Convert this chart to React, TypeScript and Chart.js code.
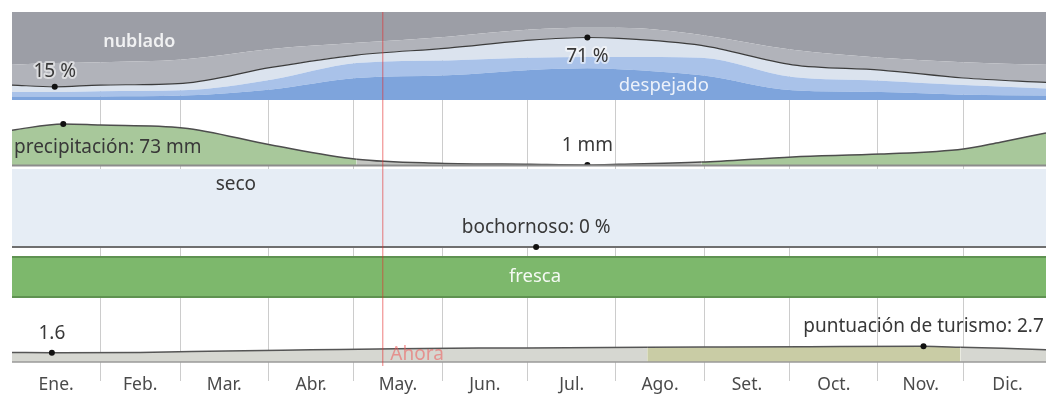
import React, { useEffect, useRef } from 'react';
import { Chart, registerables } from 'chart.js';

Chart.register(...registerables);

// ---------- data ----------
const monthLabels = ['Ene.', 'Feb.', 'Mar.', 'Abr.', 'May.', 'Jun.', 'Jul.', 'Ago.', 'Set.', 'Oct.', 'Nov.', 'Dic.'];
const monthStartDays = [0, 31, 59, 90, 120, 151, 181, 212, 243, 273, 304, 334];
const monthLengths = [31, 28, 31, 30, 31, 30, 31, 31, 30, 31, 30, 31];
const nowDay = 130;

// cloud cover categories (% of time), by day of year
const cloudDays = [0, 15, 31, 60, 91, 121, 153, 182, 202, 213, 242, 274, 305, 334, 363];
const clearPct = [4, 4, 4, 5, 12, 25, 28, 34, 36, 35, 28, 11, 9, 6, 5];
const mostlyClearPct = [5, 5, 6, 6, 11, 17, 17, 14, 13, 14, 20, 15, 13, 11, 8];
const partlyCloudyPct = [8, 6, 7, 8, 14, 9, 14, 20, 22, 21, 14, 14, 12, 8, 7];
const mostlyCloudyPct = [23, 27, 26, 27, 21, 14, 13, 12, 11, 12, 12, 17, 14, 18, 20];
const overcastPct = [60, 58, 57, 54, 42, 35, 28, 20, 18, 18, 26, 43, 52, 57, 60];

// precipitation (mm, 31-day sliding)
const precipDays = [0, 18, 31, 60, 91, 121, 150, 182, 202, 213, 242, 274, 305, 334, 347, 363];
const precipMm = [62, 73, 71, 66, 36, 11, 4, 2, 1, 2, 6, 15, 20, 29, 41, 57];

// humidity comfort (% of time muggy / dry)
const humidDays = [0, 31, 59, 90, 120, 151, 184, 212, 243, 273, 304, 334, 363];
const muggyPct = [0, 0, 0, 0, 0, 0, 0, 0, 0, 0, 0, 0, 0];
const dryPct = [100, 100, 100, 100, 100, 100, 100, 100, 100, 100, 100, 100, 100];
const muggyPeakDay = 184;

// wind/temperature feel: fresca (% of time)
const windDays = [0, 90, 181, 273, 363];
const coolPct = [100, 100, 100, 100, 100];

// tourism score
const tourismDays = [0, 14, 45, 75, 105, 135, 165, 195, 223, 250, 280, 320, 333, 348, 363];
const tourismScore = [1.65, 1.6, 1.65, 1.9, 2.1, 2.3, 2.4, 2.45, 2.55, 2.6, 2.65, 2.7, 2.55, 2.35, 2.1];
const tourismGoodThreshold = 2.5;

// ---------- helpers ----------
const pts = (days: number[], vals: number[]) => days.map((d, i) => ({ x: d, y: vals[i] }));
const argMin = (a: number[]) => a.reduce((m, v, i) => (v < a[m] ? i : m), 0);
const argMax = (a: number[]) => a.reduce((m, v, i) => (v > a[m] ? i : m), 0);

const cloudLine = cloudDays.map((_, i) => clearPct[i] + mostlyClearPct[i] + partlyCloudyPct[i]);
const cloudMinI = argMin(cloudLine);
const cloudMaxI = argMax(cloudLine);
const precipMaxI = argMax(precipMm);
const precipMinI = argMin(precipMm);
const muggyI = humidDays.indexOf(muggyPeakDay);
const tourMinI = argMin(tourismScore);
const tourMaxI = argMax(tourismScore);

const monthMidDays = monthStartDays.map((d, i) => d + monthLengths[i] / 2);
const FONT = '"Noto Sans", "Open Sans", sans-serif';

const markerRadius = (idxs: number[]) => (ctx: any) => (idxs.includes(ctx.dataIndex) ? 3 : 0);

const overlayPlugin = {
  id: 'overlay',
  afterDatasetsDraw(chart: any) {
    const { ctx, chartArea, scales } = chart;
    const base = (id: string, v: number, color: string, w: number) => {
      const y = scales[id].getPixelForValue(v);
      ctx.save();
      ctx.strokeStyle = color;
      ctx.lineWidth = w;
      ctx.beginPath();
      ctx.moveTo(chartArea.left, y);
      ctx.lineTo(chartArea.right, y);
      ctx.stroke();
      ctx.restore();
    };
    base('yPrecip', 0, '#8c8c8c', 2);
    base('yWind', 0, '#5f9251', 2);
    base('yTour', 0, '#9a9a98', 1.5);
  },
  afterDraw(chart: any) {
    const { ctx, chartArea, scales } = chart;
    const x = scales.x;
    const L = chartArea.left;
    const R = chartArea.right;

    // now line
    const nx = x.getPixelForValue(nowDay);
    ctx.save();
    ctx.strokeStyle = 'rgba(228,45,45,0.62)';
    ctx.lineWidth = 1;
    ctx.beginPath();
    ctx.moveTo(nx + 0.5, chartArea.top);
    ctx.lineTo(nx + 0.5, chartArea.bottom + 3);
    ctx.stroke();
    ctx.restore();

    const text = (s: string, px: number, py: number, opt: any = {}) => {
      ctx.save();
      ctx.font = `${opt.weight || 'normal'} ${opt.size || 19}px ${FONT}`;
      ctx.textBaseline = 'middle';
      const w = ctx.measureText(s).width;
      let left = opt.align === 'left' ? px : px - w / 2;
      left = Math.max(L + 2, Math.min(R - 2 - w, left));
      if (opt.halo) {
        ctx.strokeStyle = opt.halo;
        ctx.lineWidth = 4;
        ctx.lineJoin = 'round';
        ctx.strokeText(s, left, py);
      }
      ctx.fillStyle = opt.color || '#383838';
      ctx.fillText(s, left, py);
      ctx.restore();
    };

    const yc = scales.yCloud;
    const yp = scales.yPrecip;
    const yh = scales.yHumid;
    const yw = scales.yWind;
    const yt = scales.yTour;

    text('nublado', x.getPixelForValue(32), yc.getPixelForValue(66), { align: 'left', color: 'rgba(255,255,255,0.85)', weight: '600', size: 18 });
    text('despejado', x.getPixelForValue(213), yc.getPixelForValue(16), { align: 'left', color: 'rgba(255,255,255,0.85)', size: 18.5 });
    text(`${Math.round(cloudLine[cloudMinI])} %`, x.getPixelForValue(cloudDays[cloudMinI]), yc.getPixelForValue(cloudLine[cloudMinI]) - 15, { halo: 'rgba(255,255,255,0.55)' });
    text(`${Math.round(cloudLine[cloudMaxI])} %`, x.getPixelForValue(cloudDays[cloudMaxI]), yc.getPixelForValue(cloudLine[cloudMaxI]) + 19, { halo: 'rgba(255,255,255,0.55)' });

    text(`precipitación: ${precipMm[precipMaxI]} mm`, x.getPixelForValue(precipDays[precipMaxI]), yp.getPixelForValue(precipMm[precipMaxI]) + 24);
    text(`${precipMm[precipMinI]} mm`, x.getPixelForValue(precipDays[precipMinI]), yp.getPixelForValue(precipMm[precipMinI]) - 19);

    text('seco', x.getPixelForValue(78.6), yh.getPixelForValue(80));
    text(`bochornoso: ${muggyPct[muggyI]} %`, x.getPixelForValue(humidDays[muggyI]), yh.getPixelForValue(muggyPct[muggyI]) - 19);

    text('fresca', (L + R) / 2 + 6, yw.getPixelForValue(50), { color: 'rgba(255,255,255,0.92)', size: 18.5 });

    text(tourismScore[tourMinI].toFixed(1), x.getPixelForValue(tourismDays[tourMinI]), yt.getPixelForValue(tourismScore[tourMinI]) - 19);
    text(`puntuación de turismo: ${tourismScore[tourMaxI].toFixed(1)}`, x.getPixelForValue(tourismDays[tourMaxI]), yt.getPixelForValue(tourismScore[tourMaxI]) - 20);

    text('Ahora', nx + 8, yt.getPixelForValue(1.2), { align: 'left', color: 'rgba(240,90,90,0.55)' });
  },
};

export default function App() {
  const ref = useRef<HTMLCanvasElement | null>(null);

  useEffect(() => {
    let chart: Chart | null = null;
    let cancelled = false;
    const build = () => {
      if (cancelled || !ref.current) return;
      const cloudCommon = { yAxisID: 'yCloud', borderWidth: 0, pointRadius: 0, cubicInterpolationMode: 'monotone' as const };
      chart = new Chart(ref.current, {
        type: 'line',
        data: {
          datasets: [
            { ...cloudCommon, label: 'despejado', data: pts(cloudDays, clearPct), fill: 'origin', backgroundColor: '#7ea4dc' },
            { ...cloudCommon, label: 'mayormente despejado', data: pts(cloudDays, mostlyClearPct), fill: '-1', backgroundColor: '#a9c2e9' },
            {
              ...cloudCommon, label: 'parcialmente nublado', data: pts(cloudDays, partlyCloudyPct), fill: '-1', backgroundColor: '#dbe3ee',
              borderWidth: 1.2, borderColor: '#3c3c3c', pointRadius: markerRadius([cloudMinI, cloudMaxI]), pointBackgroundColor: '#111', pointBorderWidth: 0,
            },
            { ...cloudCommon, label: 'mayormente nublado', data: pts(cloudDays, mostlyCloudyPct), fill: '-1', backgroundColor: '#b1b3ba' },
            { ...cloudCommon, label: 'nublado', data: pts(cloudDays, overcastPct), fill: '-1', backgroundColor: '#9c9ea6' },
            {
              label: 'precipitación', yAxisID: 'yPrecip', data: pts(precipDays, precipMm), fill: 'origin', backgroundColor: '#a8c89b',
              segment: { backgroundColor: (c: any) => (c.p0.parsed.y < 15 && c.p1.parsed.y < 15 ? '#c4c6c2' : undefined) },
              borderColor: '#4d4d4d', borderWidth: 1.5, cubicInterpolationMode: 'monotone',
              pointRadius: markerRadius([precipMaxI, precipMinI]), pointBackgroundColor: '#111', pointBorderWidth: 0,
            },
            {
              label: 'bochornoso', yAxisID: 'yHumid', data: pts(humidDays, muggyPct), fill: 'origin', backgroundColor: '#c9d3dd',
              borderColor: '#6f6f6f', borderWidth: 2, pointRadius: markerRadius([muggyI]), pointBackgroundColor: '#111', pointBorderWidth: 0,
            },
            { label: 'seco', yAxisID: 'yHumid', data: pts(humidDays, dryPct), fill: '-1', backgroundColor: '#e6edf5', borderWidth: 0, pointRadius: 0 },
            { label: 'fresca', yAxisID: 'yWind', data: pts(windDays, coolPct), fill: 'origin', backgroundColor: '#7db86c', borderColor: '#5f9251', borderWidth: 2, pointRadius: 0 },
            {
              label: 'turismo', yAxisID: 'yTour', data: pts(tourismDays, tourismScore), fill: 'origin', backgroundColor: '#d6d7d1',
              segment: { backgroundColor: (c: any) => (c.p0.parsed.y >= tourismGoodThreshold && c.p1.parsed.y >= tourismGoodThreshold ? '#c9cca5' : undefined) },
              borderColor: '#555', borderWidth: 1.5, cubicInterpolationMode: 'monotone',
              pointRadius: markerRadius([tourMinI, tourMaxI]), pointBackgroundColor: '#111', pointBorderWidth: 0,
            },
          ],
        },
        options: {
          animation: false,
          responsive: false,
          layout: { padding: { left: 12, right: 0, top: 12, bottom: 0 } },
          plugins: { legend: { display: false }, tooltip: { enabled: false } },
          scales: {
            x: {
              type: 'linear', min: 0, max: 363, position: 'bottom', z: 1,
              afterBuildTicks: (s: any) => {
                const vals = [...monthStartDays.slice(1), ...monthMidDays].sort((a, b) => a - b);
                s.ticks = vals.map((v) => ({ value: v }));
              },
              afterFit: (s: any) => { s.height = 38; },
              grid: {
                color: (c: any) => (c.tick && monthStartDays.includes(c.tick.value) ? 'rgba(0,0,0,0.2)' : 'rgba(0,0,0,0)'),
                tickLength: 18, drawTicks: true, drawOnChartArea: true,
              },
              border: { display: false },
              ticks: {
                autoSkip: false, maxRotation: 0, padding: -6, color: '#4a4a4a',
                font: { family: FONT, size: 17.5 },
                callback: (v: any) => { const i = monthMidDays.indexOf(Number(v)); return i >= 0 ? monthLabels[i] : ''; },
              },
            },
            yTour: { type: 'linear', display: false, min: -0.172, max: 10.69, stack: 'bands', stackWeight: 63 },
            yWind: { type: 'linear', display: false, min: -7.5, max: 112.5, stack: 'bands', stackWeight: 48 },
            yHumid: { type: 'linear', display: false, min: -6.4, max: 103.8, stacked: true, stack: 'bands', stackWeight: 86 },
            yPrecip: { type: 'linear', display: false, min: -0.9, max: 115, stack: 'bands', stackWeight: 66 },
            yCloud: { type: 'linear', display: false, min: 0, max: 100, stacked: true, stack: 'bands', stackWeight: 88 },
          },
        } as any,
        plugins: [overlayPlugin],
      });
    };
    const fonts = (document as any).fonts;
    if (fonts && fonts.load) {
      fonts.load(`16px "Noto Sans"`).then(build, build);
    } else build();
    return () => {
      cancelled = true;
      if (chart) chart.destroy();
    };
  }, []);

  return (
    <div style={{ position: 'absolute', left: 0, top: 0, width: 1046, height: 401 }}>
      <canvas ref={ref} width={1046} height={401} />
    </div>
  );
}
